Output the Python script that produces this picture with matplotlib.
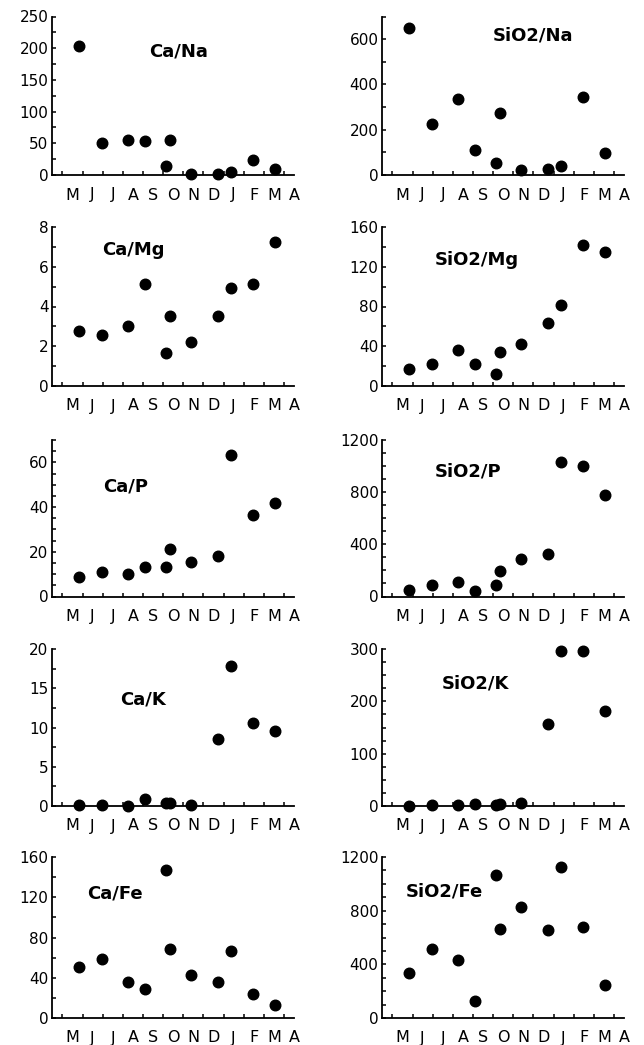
import matplotlib
matplotlib.use("Agg")
import matplotlib.pyplot as plt
from matplotlib.ticker import MultipleLocator, FixedLocator

# ---- data ----
months = ['M', 'J', 'J', 'A', 'S', 'O', 'N', 'D', 'J', 'F', 'M', 'A']
sample_pos = [0.32, 1.46, 2.75, 3.60, 4.62, 4.84, 5.86, 7.23, 7.87, 8.95, 10.07]

ca_na = [203, 51, 55, 53, 14, 55, 1, 1.5, 4, 23, 9]
sio2_na = [651, 225, 334, 110, 51, 272, 22, 25, 40, 343, 96]
ca_mg = [2.75, 2.55, 3.0, 5.15, 1.68, 3.54, 2.21, 3.54, 4.93, 5.15, 7.27]
sio2_mg = [17.3, 21.7, 36, 21.7, 11.7, 34, 42.7, 63.3, 81.7, 142.3, 135]
ca_p = [8.9, 11.1, 10.2, 13.3, 13.3, 21.3, 15.4, 18.2, 63.1, 36.4, 42]
sio2_p = [47, 86, 112, 42, 86, 197, 288, 327, 1035, 1000, 775]
ca_k = [0.1, 0.1, 0.0, 0.85, 0.4, 0.4, 0.1, 8.5, 17.8, 10.6, 9.6]
sio2_k = [0.5, 1, 1, 3, 2.5, 4, 5, 156, 296, 296, 182]
ca_fe = [50.7, 58.3, 35.4, 28.5, 147, 68.2, 42.7, 35.8, 66.6, 23.5, 12.6]
sio2_fe = [332, 512, 432, 125, 1067, 667, 825, 657, 1125, 680, 245]

titles = ['Ca/Na', 'SiO2/Na', 'Ca/Mg', 'SiO2/Mg', 'Ca/P', 'SiO2/P',
          'Ca/K', 'SiO2/K', 'Ca/Fe', 'SiO2/Fe']
series = [ca_na, sio2_na, ca_mg, sio2_mg, ca_p, sio2_p, ca_k, sio2_k, ca_fe, sio2_fe]
y_max = [250, 700, 8, 160, 70, 1200, 20, 300, 160, 1200]
y_major = [50, 200, 2, 40, 20, 400, 5, 100, 40, 400]
y_minor = [25, 100, 1, 20, 5, 100, 2.5, 25, 20, 100]

# ---- layout (pixels) ----
W, H = 644, 1045
col_left = [52, 382]
ax_w = 242
row_tb = [(16.5, 175), (227, 386), (440, 596.5), (649, 806), (857, 1018)]
title_px = [(179, 52), (533, 35), (133, 250), (477, 260), (126, 486),
            (468, 472), (143, 699), (475, 683), (115, 894), (444, 892)]

fig = plt.figure(figsize=(W / 100, H / 100), dpi=100)

for i in range(10):
    r, c = divmod(i, 2)
    top, bot = row_tb[r]
    left = col_left[c]
    ax = fig.add_axes([left / W, 1 - bot / H, ax_w / W, (bot - top) / H])
    ax.plot(sample_pos, series[i], 'o', color='black', markersize=7.6,
            clip_on=False, zorder=5)
    ax.set_xlim(-1.02, 11.0)
    ax.set_ylim(0, y_max[i])
    for s in ['top', 'right']:
        ax.spines[s].set_visible(False)
    for s in ['left', 'bottom']:
        ax.spines[s].set_linewidth(1.3)
        ax.spines[s].set_color('black')
    ax.xaxis.set_major_locator(FixedLocator(range(12)))
    ax.set_xticklabels(months)
    ax.xaxis.set_minor_locator(FixedLocator([k - 0.5 for k in range(12)]))
    ax.tick_params(axis='x', which='major', length=0, pad=9,
                   labelsize=11.5)
    ax.tick_params(axis='x', which='minor', direction='in', length=3,
                   width=1.1)
    ax.yaxis.set_major_locator(MultipleLocator(y_major[i]))
    ax.yaxis.set_minor_locator(MultipleLocator(y_minor[i]))
    ax.tick_params(axis='y', which='both', direction='in', length=3,
                   width=1.1, pad=2.5, labelsize=11)
    for lab in ax.get_xticklabels() + ax.get_yticklabels():
        lab.set_family('DejaVu Sans')
    tx, ty = title_px[i]
    fig.text(tx / W, 1 - ty / H, titles[i], ha='center', va='center',
             fontsize=13, fontweight='bold', family='DejaVu Sans')

fig.savefig('out.png', dpi=100)
